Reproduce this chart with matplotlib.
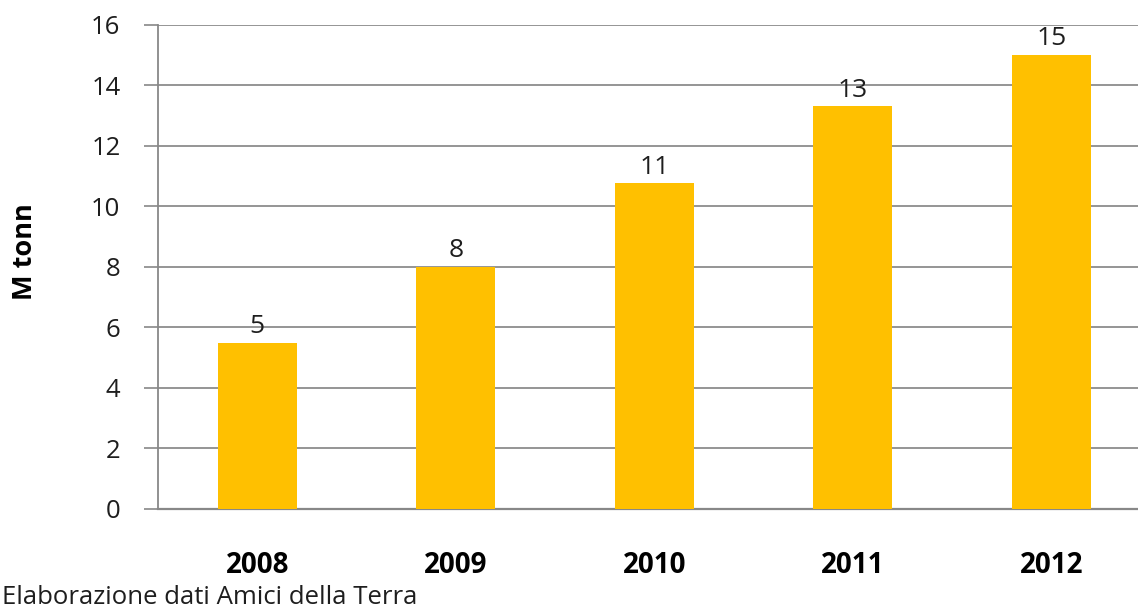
import matplotlib.pyplot as plt
import numpy as np

plt.rcParams['font.family'] = ['Open Sans', 'DejaVu Sans']

years = ['2008', '2009', '2010', '2011', '2012']
tonn = [5.48, 8.0, 10.75, 13.3, 15.0]
yticks = [0, 2, 4, 6, 8, 10, 12, 14, 16]

W, H = 1138, 611
fig = plt.figure(figsize=(W / 100, H / 100), dpi=100)
# plot area runs past the right edge of the figure
ax = fig.add_axes([158 / W, 102 / H, 992.5 / W, 484.5 / H])

x = np.arange(len(years))
bars = ax.bar(x, tonn, width=0.4, color='#FFC000', zorder=3)

for b, v in zip(bars, tonn):
    ax.text(b.get_x() + b.get_width() / 2, v + 0.12, '%.0f' % v,
            ha='center', va='bottom', fontsize=19, color='#1e1e1e', zorder=4)

ax.set_xlim(-0.5, len(years) - 0.5)
ax.set_ylim(0, 16)
ax.set_yticks(yticks)
ax.set_xticks(x)
ax.set_xticklabels(years, fontsize=20, fontweight='bold')
ax.tick_params(axis='x', length=0, pad=30)
ax.tick_params(axis='y', length=10, width=1.2, color='#888888', labelsize=18.5,
               labelcolor='#1e1e1e', pad=17)
ax.yaxis.grid(True, color='#8c8c8c', linewidth=1.3, zorder=0)

for s in ['top', 'right']:
    ax.spines[s].set_visible(False)
ax.spines['left'].set_color('#888888')
ax.spines['left'].set_linewidth(1.3)
ax.spines['bottom'].set_color('#888888')
ax.spines['bottom'].set_linewidth(1.6)

fig.text(25 / W, 1 - 252 / H, 'M tonn', rotation=90, ha='center', va='center',
         fontsize=19.5, fontweight='bold')
fig.text(2 / W, 1 - 598 / H, 'Elaborazione dati Amici della Terra',
         ha='left', va='center', fontsize=18.5, color='#1e1e1e')

fig.savefig('out.png', dpi=100)
